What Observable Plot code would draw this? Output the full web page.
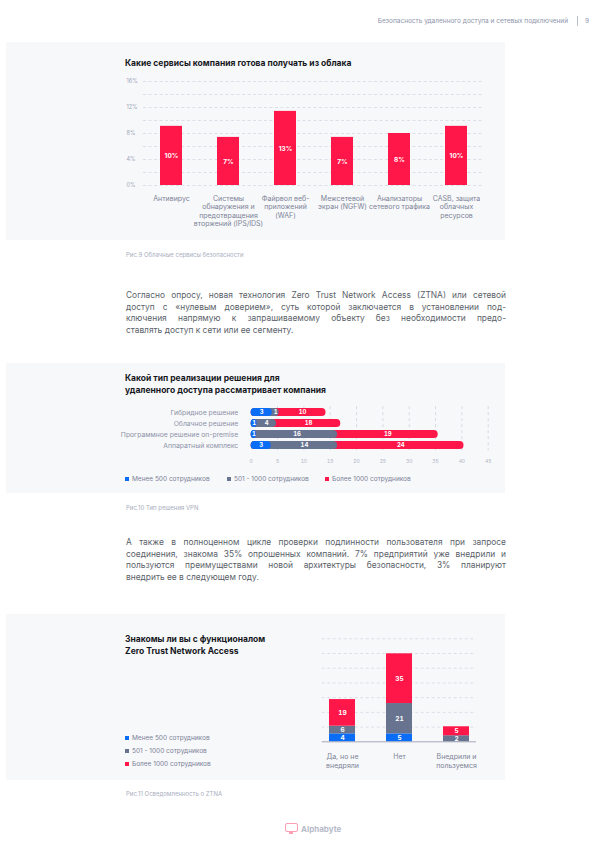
<!DOCTYPE html>
<html><head><meta charset="utf-8">
<script src="https://cdn.jsdelivr.net/npm/d3@7"></script>
<script src="https://cdn.jsdelivr.net/npm/@observablehq/plot@0.6"></script>
<style>
body{margin:0;width:607px;height:854px;position:relative;background:#fff;font-family:Inter,"Noto Sans",sans-serif;overflow:hidden}
.abs{position:absolute}
.panel{position:absolute;left:6px;width:499px;background:#f7f8fa}
.title{position:absolute;left:125px;font-weight:700;font-size:8.5px;color:#15171c;line-height:12px;white-space:nowrap}
.cap{position:absolute;left:126px;font-size:6px;line-height:8px;color:#a9aec0;white-space:nowrap}
.para{position:absolute;left:126px;width:380px;font-size:8.4px;color:#5a5f69;line-height:11.7px}
.para div{text-align:justify;text-align-last:justify}
.para div.last{text-align-last:left}
.leg{position:absolute;font-size:6.5px;line-height:8px;color:#7b8199;white-space:nowrap}
.sw{display:inline-block;width:4px;height:4px;margin-right:3px;vertical-align:0px}
.chart{position:absolute;left:105px}
</style></head>
<body>
<div class="abs" style="top:16.7px;right:39px;font-size:6.5px;line-height:8px;color:#8e94aa;white-space:nowrap">Безопасность удаленного доступа и сетевых подключений</div>
<div class="abs" style="top:16px;left:577px;width:0.8px;height:10px;background:#b8bccb"></div>
<div class="abs" style="top:16.7px;left:585px;font-size:6.5px;line-height:8px;color:#8e94aa">9</div>

<div class="panel" style="top:42px;height:198px"></div>
<div class="title" style="top:56.7px">Какие сервисы компания готова получать из облака</div>
<div class="chart" id="c1" style="top:70px"></div>
<div class="cap" style="top:251px">Рис.9 Облачные сервисы безопасности</div>

<div class="para" style="top:290px">
<div>Согласно опросу, новая технология Zero Trust Network Access (ZTNA) или сетевой</div>
<div>доступ с «нулевым доверием», суть которой заключается в установлении под-</div>
<div>ключения напрямую к запрашиваемому объекту без необходимости предо-</div>
<div class="last">ставлять доступ к сети или ее сегменту.</div>
</div>

<div class="panel" style="top:363px;height:130px"></div>
<div class="title" style="top:372px">Какой тип реализации решения для<br>удаленного доступа рассматривает компания</div>
<div class="chart" id="c2" style="top:400px"></div>
<div class="leg" style="top:474.7px;left:125px"><span class="sw" style="background:#0b6cf5"></span>Менее 500 сотрудников</div>
<div class="leg" style="top:474.7px;left:227px"><span class="sw" style="background:#67738f"></span>501 - 1000 сотрудников</div>
<div class="leg" style="top:474.7px;left:325px"><span class="sw" style="background:#ff1749"></span>Более 1000 сотрудников</div>
<div class="cap" style="top:504px">Рис.10 Тип решения VPN</div>

<div class="para" style="top:537px">
<div>А также в полноценном цикле проверки подлинности пользователя при запросе</div>
<div>соединения, знакома 35% опрошенных компаний. 7% предприятий уже внедрили и</div>
<div>пользуются преимуществами новой архитектуры безопасности, 3% планируют</div>
<div class="last">внедрить ее в следующем году.</div>
</div>

<div class="panel" style="top:614px;height:166px"></div>
<div class="title" style="top:633px">Знакомы ли вы с функционалом<br>Zero Trust Network Access</div>
<div class="chart" id="c3" style="top:620px"></div>
<div class="leg" style="top:733.7px;left:125px"><span class="sw" style="background:#0b6cf5"></span>Менее 500 сотрудников</div>
<div class="leg" style="top:746.7px;left:125px"><span class="sw" style="background:#67738f"></span>501 - 1000 сотрудников</div>
<div class="leg" style="top:759.7px;left:125px"><span class="sw" style="background:#ff1749"></span>Более 1000 сотрудников</div>
<div class="cap" style="top:789.5px">Рис.11 Осведомленность о ZTNA</div>

<div class="abs" style="left:285px;top:823px;width:11px;height:7px;border:1.6px solid #ff9db2;border-radius:2px"></div>
<div class="abs" style="left:289px;top:832px;width:4px;height:2px;background:#ff9db2"></div>
<div class="abs" style="left:301px;top:823.5px;font-size:8px;line-height:10px;font-weight:700;color:#b7bbc9">Alphabyte</div>

<script>
// ---------- Chart 1 data ----------
const services = ["Антивирус","Системы\nобнаружения и\nпредотвращения\nвторжений (IPS/IDS)","Файрвол веб-\nприложений\n(WAF)","Межсетевой\nэкран (NGFW)","Анализаторы\nсетевого трафика","CASB, защита\nоблачных\nресурсов"];
const serviceShare = [9.1, 7.4, 11.4, 7.4, 8.0, 9.1];
const serviceLabels = ["10%","7%","13%","7%","8%","10%"];
const shareTicks = [0, 4, 8, 12, 16];
const shareGrid = [0, 2, 4, 6, 8, 10, 12, 14, 16];

// ---------- Chart 2 data ----------
const solutions = ["Гибридное решение","Облачное решение","Программное решение on-premise","Аппаратный комплекс"];
const vpnSmall = [4.0, 1.1, 1.0, 3.8];
const vpnMid = [1.3, 3.7, 15.4, 12.6];
const vpnLarge = [8.9, 12.2, 19.1, 24.0];
const vpnSmallLbl = [3, 1, 1, 3];
const vpnMidLbl = [1, 4, 16, 14];
const vpnLargeLbl = [10, 18, 19, 24];
const vpnTicks = [0, 5, 10, 15, 20, 25, 30, 35, 40, 45];

// ---------- Chart 3 data ----------
const awareness = ["Да, но не\nвнедряли","Нет","Внедрили и\nпользуемся"];
const awSmall = [5.4, 5.4, 0];
const awMid = [5.2, 20.6, 4.1];
const awLarge = [18.1, 33.8, 6.1];
const awSmallLbl = [4, 5, 0];
const awMidLbl = [6, 21, 2];
const awLargeLbl = [19, 35, 5];
const awGrid = [10, 20, 30, 40, 50, 60, 70];

const RED = "#ff1749", BLUE = "#0b6cf5", GREY = "#67738f";
const baseStyle = {fontFamily:"Inter, 'Noto Sans', sans-serif", background:"transparent", overflow:"visible", color:"#7d8398"};

// Chart 1
const d1 = services.map((s,i)=>({s, v:serviceShare[i], l:serviceLabels[i]}));
document.getElementById("c1").append(Plot.plot({
  width:400, height:160, marginLeft:35.5, marginRight:19, marginTop:11, marginBottom:45,
  style:baseStyle,
  x:{domain:services, paddingInner:0.62, paddingOuter:0.31, label:null},
  y:{domain:[0,16], axis:null, label:null},
  marks:[
    Plot.ruleY(shareGrid,{stroke:"#dcdfe7", strokeDasharray:"3,2.5", insetLeft:2.5, insetRight:3}),
    Plot.text(shareTicks,{y:d=>d, text:d=>d+"%", frameAnchor:"left", textAnchor:"start", dx:-14.5, fill:"#a0a5b8", fontSize:5.5}),
    Plot.barY(d1,{x:"s", y:"v", fill:RED}),
    Plot.text(d1,{x:"s", y:d=>d.v/2, text:"l", fill:"white", fontWeight:700, fontSize:6.5}),
    Plot.axisX({tickSize:0, tickPadding:9, fontSize:7, lineHeight:1.23, fill:"#7d8398", label:null})
  ]
}));

// Chart 2
const d2 = [];
solutions.forEach((c,i)=>{
  const c1v = vpnSmall[i], c2v = c1v + vpnMid[i], c3v = c2v + vpnLarge[i];
  d2.push({c, x1:0, x2:c3v, mid:(c2v+c3v)/2, fill:RED, lbl:vpnLargeLbl[i], order:0});
  d2.push({c, x1:0, x2:c2v, mid:(c1v+c2v)/2, fill:GREY, lbl:vpnMidLbl[i], order:1});
  d2.push({c, x1:0, x2:c1v, mid:c1v/2, fill:BLUE, lbl:vpnSmallLbl[i], order:2});
});
d2.sort((a,b)=>a.order-b.order);
document.getElementById("c2").append(Plot.plot({
  width:400, height:70, marginLeft:145.7, marginRight:17.3, marginTop:6.2, marginBottom:19.8,
  style:baseStyle,
  x:{domain:[0,45], label:null},
  y:{domain:solutions, paddingInner:0.3, paddingOuter:0.15, label:null},
  marks:[
    Plot.ruleX(vpnTicks.slice(1),{stroke:"#d6d9e1", strokeDasharray:"3,3"}),
    Plot.barX(d2,{y:"c", x1:"x1", x2:"x2", fill:"fill", rx:3.85}),
    Plot.text(d2,{y:"c", x:"mid", text:"lbl", fill:"white", fontWeight:700, fontSize:6}),
    Plot.axisX({ticks:vpnTicks, tickSize:0, tickPadding:8.3, fontSize:5, fill:"#b0b4c3", label:null}),
    Plot.axisY({tickSize:0, tickPadding:13, fontSize:6.8, fill:"#8d92a7", label:null})
  ]
}));

// Chart 3
const d3rows = [];
awareness.forEach((c,i)=>{
  const a = awSmall[i], b = a + awMid[i], t = b + awLarge[i];
  d3rows.push({c, y1:0, y2:a, fill:BLUE, lbl:awSmallLbl[i]});
  d3rows.push({c, y1:a, y2:b, fill:GREY, lbl:awMidLbl[i]});
  d3rows.push({c, y1:b, y2:t, fill:RED, lbl:awLargeLbl[i]});
});
const d3vis = d3rows.filter(d=>d.y2>d.y1);
document.getElementById("c3").append(Plot.plot({
  width:400, height:160, marginLeft:208.5, marginRight:20.5, marginTop:18.3, marginBottom:38.7,
  style:baseStyle,
  x:{domain:awareness, paddingInner:0.544, paddingOuter:0.272, label:null},
  y:{domain:[0,70], axis:null, label:null},
  marks:[
    Plot.ruleY(awGrid,{stroke:"#dcdfe7", strokeDasharray:"3,2.5", insetLeft:8.2, insetRight:8.5}),
    Plot.barY(d3vis,{x:"c", y1:"y1", y2:"y2", fill:"fill"}),
    Plot.ruleY([0],{stroke:"#8f95aa", strokeWidth:0.8, insetLeft:8.2, insetRight:8.5}),
    Plot.text(d3vis,{x:"c", y:d=>(d.y1+d.y2)/2, text:"lbl", fill:"white", fontWeight:700, fontSize:6.5}),
    Plot.axisX({tickSize:0, tickPadding:10.7, fontSize:7, lineHeight:1.33, fill:"#7d8398", label:null})
  ]
}));
</script>
</body></html>
